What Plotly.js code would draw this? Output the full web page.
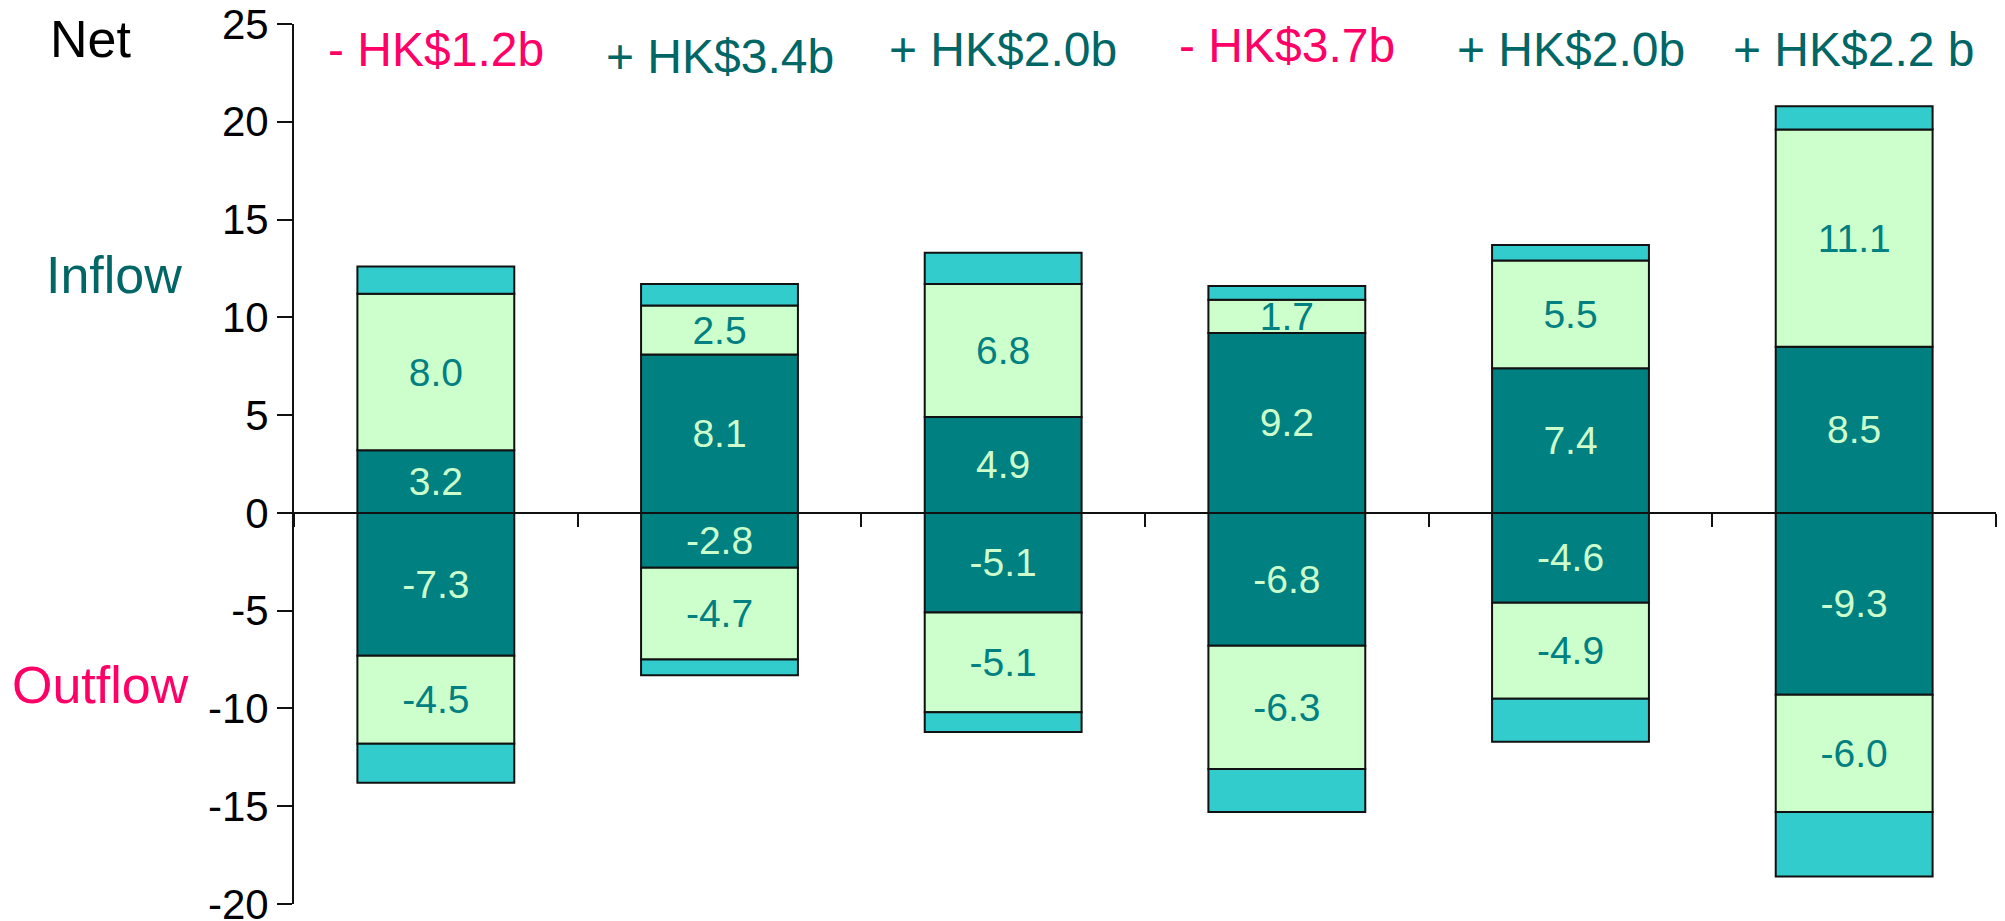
<!DOCTYPE html>
<html>
<head>
<meta charset="utf-8">
<script src="https://cdn.plot.ly/plotly-3.0.1.min.js"></script>
<style>html,body{margin:0;padding:0;background:#fff;}#chart{width:2005px;height:921px;}</style>
</head>
<body>
<div id="chart"></div>
<script>
// ---- data ----
const categories = ['P1', 'P2', 'P3', 'P4', 'P5', 'P6'];
const inflowCore   = [3.2, 8.1, 4.9, 9.2, 7.4, 8.5];
const inflowMid    = [8.0, 2.5, 6.8, 1.7, 5.5, 11.1];
const inflowTop    = [1.4, 1.1, 1.6, 0.7, 0.8, 1.2];
const outflowCore  = [-7.3, -2.8, -5.1, -6.8, -4.6, -9.3];
const outflowMid   = [-4.5, -4.7, -5.1, -6.3, -4.9, -6.0];
const outflowEnd   = [-2.0, -0.8, -1.0, -2.2, -2.2, -3.3];
const netLabels    = ['- HK$1.2b', '+ HK$3.4b', '+ HK$2.0b', '- HK$3.7b', '+ HK$2.0b', '+ HK$2.2 b'];
const yTickVals    = [-20, -15, -10, -5, 0, 5, 10, 15, 20, 25];
const yTickText    = ['-20', '-15', '-10', '-5', '0', '5', '10', '15', '20', '25'];

// ---- styles ----
const DARK = '#008080', LIGHT = '#CCFFCC', CYAN = '#33CCCC';
const PINK = '#FF0066', TEAL_TXT = '#006666';
const FONT = 'Liberation Sans, Arial, Helvetica, sans-serif';
const border = {color: '#111111', width: 2};

function seg(vals, color, labelColor) {
  const t = {
    type: 'bar', x: categories, y: vals,
    marker: {color: color, line: border},
    hoverinfo: 'skip', showlegend: false
  };
  if (labelColor) {
    t.text = vals.map(v => v.toFixed(1));
    t.textposition = 'inside';
    t.insidetextanchor = 'middle';
    t.textangle = 0;
    t.constraintext = 'none';
    t.textfont = {family: FONT, size: 39, color: labelColor};
  } else {
    t.textposition = 'none';
  }
  return t;
}

const traces = [
  seg(inflowCore, DARK, LIGHT),
  seg(outflowCore, DARK, LIGHT),
  seg(inflowMid, LIGHT, DARK),
  seg(outflowMid, LIGHT, DARK),
  seg(inflowTop, CYAN, null),
  seg(outflowEnd, CYAN, null)
];

const annotations = netLabels.map((t, i) => ({
  x: categories[i], xref: 'x', y: 23.7, yref: 'y',
  text: t, showarrow: false, xanchor: 'center', yanchor: 'middle',
  yshift: i === 1 ? -7 : (i === 3 ? 4 : 0),
  font: {family: FONT, size: 48, color: t.trim().startsWith('-') ? PINK : TEAL_TXT}
}));

const plotLeft = 294, plotW = 2005 - 294 - 9;
function px(xPix) { return (xPix - plotLeft) / plotW; }
annotations.push(
  {x: px(48), xref: 'paper', xanchor: 'left', y: 24.25, yref: 'y', yanchor: 'middle',
   text: 'Net', showarrow: false, font: {family: FONT, size: 52, color: '#000000'}},
  {x: px(44), xref: 'paper', xanchor: 'left', y: 12.15, yref: 'y', yanchor: 'middle',
   text: 'Inflow', showarrow: false, font: {family: FONT, size: 52, color: TEAL_TXT}},
  {x: px(10), xref: 'paper', xanchor: 'left', y: -8.8, yref: 'y', yanchor: 'middle',
   text: 'Outflow', showarrow: false, font: {family: FONT, size: 52, color: PINK}}
);

const layout = {
  width: 2005, height: 921,
  margin: {l: 294, r: 9, t: 24, b: 17, pad: 0},
  paper_bgcolor: '#ffffff', plot_bgcolor: '#ffffff',
  barmode: 'relative', bargap: 0.447,
  font: {family: FONT, color: '#000000'},
  showlegend: false,
  xaxis: {
    type: 'category', range: [-0.5, 5.5],
    anchor: 'free', position: 20 / 45,
    showline: true, linecolor: '#111111', linewidth: 2,
    ticks: 'outside', tickson: 'boundaries', ticklen: 13, tickwidth: 2, tickcolor: '#111111',
    showticklabels: false, showgrid: false, zeroline: false, fixedrange: true
  },
  yaxis: {
    range: [-20, 25], tickmode: 'array', tickvals: yTickVals, ticktext: yTickText,
    showline: true, linecolor: '#111111', linewidth: 2,
    ticks: 'outside', ticklen: 15, tickwidth: 2, tickcolor: '#111111',
    ticklabeloverflow: 'allow',
    tickfont: {family: FONT, size: 42, color: '#000000'},
    showgrid: false, zeroline: false, fixedrange: true
  },
  annotations: annotations
};

Plotly.newPlot('chart', traces, layout, {displayModeBar: false, staticPlot: true});
</script>
</body>
</html>
